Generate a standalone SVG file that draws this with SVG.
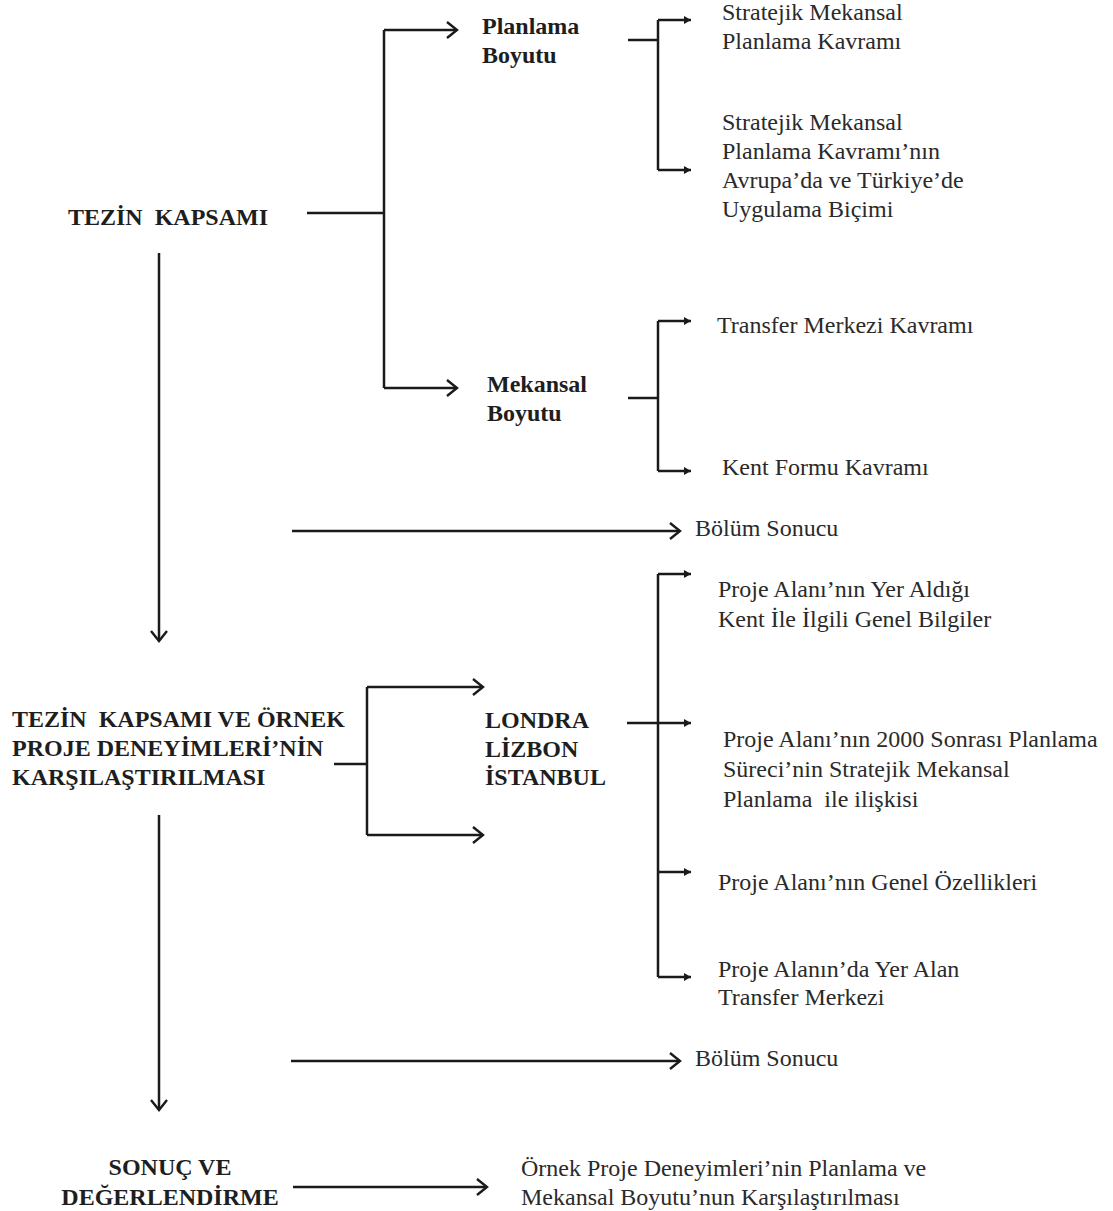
<svg xmlns="http://www.w3.org/2000/svg" width="1113" height="1211" viewBox="0 0 1113 1211">
<defs>
<marker id="chev" markerUnits="userSpaceOnUse" markerWidth="20" markerHeight="20" viewBox="-12 -10 20 20" refX="0" refY="0" orient="auto">
<path d="M-10,-8 L0,0 L-10,8" fill="none" stroke="#1a1a1a" stroke-width="2.4"/>
</marker>
<marker id="tri" markerUnits="userSpaceOnUse" markerWidth="14" markerHeight="12" viewBox="-9 -6 14 12" refX="0" refY="0" orient="auto">
<path d="M-7,-4 L0,0 L-7,4 Z" fill="#1a1a1a"/>
</marker>
</defs>
<style>
text{font-family:'Liberation Serif',Tinos,'Times New Roman',serif}
.bt{font-weight:bold;font-size:24px;fill:#1e1e1e}
.nt{font-size:24px;fill:#2a2a2a}
.ln{stroke:#1a1a1a;stroke-width:2.5;fill:none}
.ca{marker-end:url(#chev)}
.ta{marker-end:url(#tri)}
</style>
<rect width="1113" height="1211" fill="#fff"/>
<g id="connectors">
<path class="ln" d="M307,213 H384"/>
<path class="ln" d="M384,30 V388"/>
<path class="ln ca" d="M384,30 H457"/>
<path class="ln ca" d="M384,388 H457"/>
<path class="ln" d="M628,40 H658"/>
<path class="ln" d="M658,20 V170"/>
<path class="ln ta" d="M658,20 H691"/>
<path class="ln ta" d="M658,170 H691"/>
<path class="ln" d="M628,398 H658"/>
<path class="ln" d="M658,321 V471"/>
<path class="ln ta" d="M658,321 H691"/>
<path class="ln ta" d="M658,471 H691"/>
<path class="ln ca" d="M159,253 V641"/>
<path class="ln ca" d="M292,531 H680"/>
<path class="ln" d="M334,764 H367"/>
<path class="ln" d="M367,687 V835"/>
<path class="ln ca" d="M367,687 H483"/>
<path class="ln ca" d="M367,835 H483"/>
<path class="ln" d="M658,574 V977"/>
<path class="ln ta" d="M658,574 H691"/>
<path class="ln ta" d="M627,723 H691"/>
<path class="ln ta" d="M658,872 H691"/>
<path class="ln ta" d="M658,977 H691"/>
<path class="ln ca" d="M159,815 V1110"/>
<path class="ln ca" d="M291,1061 H680"/>
<path class="ln ca" d="M293,1187 H487"/>
</g>
<g id="tezin-kapsami"><text class="bt" x="68" y="225" xml:space="preserve">TEZİN  KAPSAMI</text></g>
<g id="planlama-boyutu"><text class="bt" x="482" y="34">Planlama</text><text class="bt" x="482" y="63">Boyutu</text></g>
<g id="mekansal-boyutu"><text class="bt" x="487" y="392">Mekansal</text><text class="bt" x="487" y="421">Boyutu</text></g>
<g id="smp-kavrami"><text class="nt" x="722" y="20">Stratejik Mekansal</text><text class="nt" x="722" y="49">Planlama Kavramı</text></g>
<g id="smp-uygulama"><text class="nt" x="722" y="130">Stratejik Mekansal</text><text class="nt" x="722" y="159">Planlama Kavramı’nın</text><text class="nt" x="722" y="188">Avrupa’da ve Türkiye’de</text><text class="nt" x="722" y="217">Uygulama Biçimi</text></g>
<g id="transfer-merkezi"><text class="nt" x="717" y="333">Transfer Merkezi Kavramı</text></g>
<g id="kent-formu"><text class="nt" x="722" y="475">Kent Formu Kavramı</text></g>
<g id="bolum-sonucu-1"><text class="nt" x="695" y="536">Bölüm Sonucu</text></g>
<g id="karsilastirma"><text class="bt" x="12" y="727" xml:space="preserve">TEZİN  KAPSAMI VE ÖRNEK</text><text class="bt" x="12" y="756">PROJE DENEYİMLERİ’NİN</text><text class="bt" x="12" y="785">KARŞILAŞTIRILMASI</text></g>
<g id="kentler"><text class="bt" x="485" y="728">LONDRA</text><text class="bt" x="485" y="757">LİZBON</text><text class="bt" x="485" y="785">İSTANBUL</text></g>
<g id="genel-bilgiler"><text class="nt" x="718" y="597">Proje Alanı’nın Yer Aldığı</text><text class="nt" x="718" y="627">Kent İle İlgili Genel Bilgiler</text></g>
<g id="planlama-sureci"><text class="nt" x="723" y="747">Proje Alanı’nın 2000 Sonrası Planlama</text><text class="nt" x="723" y="777">Süreci’nin Stratejik Mekansal</text><text class="nt" x="723" y="807" xml:space="preserve">Planlama  ile ilişkisi</text></g>
<g id="genel-ozellikler"><text class="nt" x="718" y="890">Proje Alanı’nın Genel Özellikleri</text></g>
<g id="transfer-merkezi-2"><text class="nt" x="718" y="977">Proje Alanın’da Yer Alan</text><text class="nt" x="718" y="1005">Transfer Merkezi</text></g>
<g id="bolum-sonucu-2"><text class="nt" x="695" y="1066">Bölüm Sonucu</text></g>
<g id="sonuc"><text class="bt" x="170" y="1175" text-anchor="middle">SONUÇ VE</text><text class="bt" x="170" y="1205" text-anchor="middle">DEĞERLENDİRME</text></g>
<g id="karsilastirma-sonuc"><text class="nt" x="521" y="1176">Örnek Proje Deneyimleri’nin Planlama ve</text><text class="nt" x="521" y="1205">Mekansal Boyutu’nun Karşılaştırılması</text></g>
</svg>
